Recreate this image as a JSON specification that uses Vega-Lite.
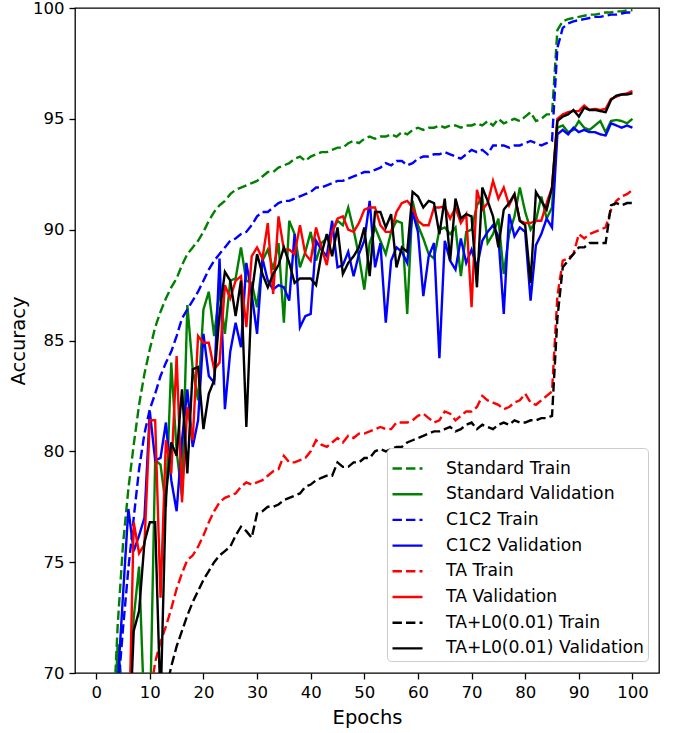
{
"$schema": "https://vega.github.io/schema/vega-lite/v6.json",
"width": 584, "height": 665,
"autosize": {"type": "none"},
"padding": {"left": 75, "top": 8, "right": 16, "bottom": 60},
"config": {
  "font": "DejaVu Sans",
  "view": {"stroke": "black", "strokeWidth": 1.3},
  "axis": {"domain": false, "grid": false, "tickColor": "black", "tickWidth": 1.3, "tickSize": 6, "labelFontSize": 16.5, "labelColor": "black", "titleFontSize": 19.5, "titleFontWeight": "normal", "titleColor": "black", "labelPadding": 5}
},
"data": {"values": [
{"e":1,"ST":45,"SV":55,"CT":45,"CV":55,"TT":50,"TV":55,"LT":45,"LV":55},
{"e":2,"ST":58,"SV":60,"CT":55,"CV":60,"TT":54,"TV":58,"LT":48,"LV":58},
{"e":3,"ST":67,"SV":65,"CT":63,"CV":65,"TT":57,"TV":60,"LT":51,"LV":60},
{"e":4,"ST":72.1,"SV":71.3,"CT":69,"CV":69.5,"TT":59,"TV":62,"LT":54,"LV":62},
{"e":5,"ST":75.8,"SV":69.0,"CT":72,"CV":73.5,"TT":61,"TV":64,"LT":56,"LV":64},
{"e":6,"ST":78.3,"SV":68.0,"CT":74.7,"CV":77.4,"TT":62.5,"TV":66,"LT":58,"LV":66},
{"e":7,"ST":80.3,"SV":72.5,"CT":77.0,"CV":75.5,"TT":64,"TV":76.8,"LT":60,"LV":71.9},
{"e":8,"ST":82.1,"SV":74.8,"CT":79.2,"CV":76.2,"TT":65.5,"TV":75.4,"LT":62,"LV":72.8},
{"e":9,"ST":83.5,"SV":68.0,"CT":80.8,"CV":77.0,"TT":67,"TV":75.8,"LT":63.5,"LV":75.9},
{"e":10,"ST":84.6,"SV":67.5,"CT":81.9,"CV":81.8,"TT":68.8,"TV":81.4,"LT":65,"LV":76.8},
{"e":11,"ST":85.6,"SV":79.6,"CT":82.6,"CV":79.6,"TT":70.5,"TV":81.4,"LT":66.5,"LV":76.8},
{"e":12,"ST":86.3,"SV":79.4,"CT":83.4,"CV":79.7,"TT":71.4,"TV":73.4,"LT":67.8,"LV":68.5},
{"e":13,"ST":86.9,"SV":77.5,"CT":84.0,"CV":81.3,"TT":72.1,"TV":80.5,"LT":69.2,"LV":78.0},
{"e":14,"ST":87.4,"SV":84.0,"CT":84.5,"CV":78.7,"TT":72.9,"TV":79.0,"LT":70.3,"LV":80.4},
{"e":15,"ST":87.8,"SV":80.0,"CT":85.2,"CV":77.3,"TT":73.8,"TV":84.3,"LT":71.2,"LV":79.8},
{"e":16,"ST":88.4,"SV":78.0,"CT":86.0,"CV":80.5,"TT":74.5,"TV":77.7,"LT":71.9,"LV":82.8},
{"e":17,"ST":88.9,"SV":86.6,"CT":86.4,"CV":82.8,"TT":75.1,"TV":82.0,"LT":72.6,"LV":79.0},
{"e":18,"ST":89.2,"SV":83.7,"CT":86.8,"CV":80.2,"TT":75.3,"TV":80.5,"LT":73.2,"LV":83.7},
{"e":19,"ST":89.5,"SV":82.3,"CT":87.2,"CV":81.4,"TT":75.7,"TV":85.2,"LT":73.7,"LV":83.8},
{"e":20,"ST":89.9,"SV":86.4,"CT":87.7,"CV":85.3,"TT":76.2,"TV":84.9,"LT":74.2,"LV":81.0},
{"e":21,"ST":90.4,"SV":87.2,"CT":88.2,"CV":83.4,"TT":76.8,"TV":84.9,"LT":74.6,"LV":82.6},
{"e":22,"ST":90.8,"SV":85.2,"CT":88.6,"CV":83.1,"TT":77.3,"TV":83.7,"LT":75.0,"LV":83.2},
{"e":23,"ST":91.1,"SV":87.3,"CT":88.9,"CV":88.7,"TT":77.7,"TV":84.0,"LT":75.3,"LV":86.2},
{"e":24,"ST":91.3,"SV":85.3,"CT":89.2,"CV":81.9,"TT":77.9,"TV":87.5,"LT":75.5,"LV":88.1},
{"e":25,"ST":91.6,"SV":87.7,"CT":89.5,"CV":84.5,"TT":78.0,"TV":86.9,"LT":75.7,"LV":87.7},
{"e":26,"ST":91.8,"SV":87.8,"CT":89.6,"CV":85.8,"TT":78.1,"TV":87.7,"LT":76.2,"LV":86.1},
{"e":27,"ST":91.9,"SV":89.2,"CT":89.8,"CV":84.7,"TT":78.4,"TV":87.9,"LT":76.6,"LV":87.7},
{"e":28,"ST":92.0,"SV":87.7,"CT":89.9,"CV":88.5,"TT":78.6,"TV":85.6,"LT":76.4,"LV":81.1},
{"e":29,"ST":92.1,"SV":87.6,"CT":90.2,"CV":87.1,"TT":78.5,"TV":88.8,"LT":76.1,"LV":87.1},
{"e":30,"ST":92.2,"SV":86.5,"CT":90.6,"CV":85.3,"TT":78.6,"TV":89.2,"LT":77.2,"LV":88.9},
{"e":31,"ST":92.4,"SV":88.6,"CT":90.8,"CV":88.7,"TT":78.7,"TV":88.7,"LT":77.3,"LV":88.0},
{"e":32,"ST":92.6,"SV":89.1,"CT":90.8,"CV":87.7,"TT":78.9,"TV":90.3,"LT":77.5,"LV":87.4},
{"e":33,"ST":92.6,"SV":88.2,"CT":91.0,"CV":87.3,"TT":79.1,"TV":87.1,"LT":77.5,"LV":88.0},
{"e":34,"ST":92.8,"SV":89.4,"CT":91.2,"CV":87.5,"TT":79.2,"TV":90.6,"LT":77.6,"LV":88.4},
{"e":35,"ST":92.9,"SV":85.8,"CT":91.3,"CV":87.4,"TT":79.8,"TV":89.1,"LT":77.8,"LV":89.2},
{"e":36,"ST":93.0,"SV":90.4,"CT":91.3,"CV":86.8,"TT":79.5,"TV":89.1,"LT":77.9,"LV":88.5},
{"e":37,"ST":93.2,"SV":89.8,"CT":91.4,"CV":89.8,"TT":79.5,"TV":88.9,"LT":78.0,"LV":87.6},
{"e":38,"ST":93.3,"SV":88.3,"CT":91.5,"CV":85.6,"TT":79.6,"TV":90.2,"LT":78.1,"LV":87.8},
{"e":39,"ST":93.1,"SV":89.0,"CT":91.6,"CV":86.1,"TT":79.7,"TV":88.9,"LT":78.4,"LV":87.8},
{"e":40,"ST":93.3,"SV":89.9,"CT":91.7,"CV":86.2,"TT":80.0,"TV":88.6,"LT":78.5,"LV":87.8},
{"e":41,"ST":93.4,"SV":88.6,"CT":91.9,"CV":89.5,"TT":80.5,"TV":90.1,"LT":78.7,"LV":87.5},
{"e":42,"ST":93.5,"SV":89.4,"CT":91.9,"CV":89.1,"TT":80.3,"TV":89.2,"LT":78.8,"LV":88.9},
{"e":43,"ST":93.5,"SV":89.6,"CT":92.0,"CV":88.8,"TT":80.2,"TV":88.4,"LT":78.9,"LV":89.8},
{"e":44,"ST":93.6,"SV":89.9,"CT":92.1,"CV":90.4,"TT":80.4,"TV":89.9,"LT":78.9,"LV":88.8},
{"e":45,"ST":93.7,"SV":90.4,"CT":92.2,"CV":88.3,"TT":80.6,"TV":90.5,"LT":79.5,"LV":90.1},
{"e":46,"ST":93.7,"SV":90.2,"CT":92.2,"CV":88.4,"TT":80.4,"TV":90.6,"LT":79.3,"LV":88.0},
{"e":47,"ST":93.9,"SV":91.0,"CT":92.3,"CV":89.0,"TT":80.7,"TV":90.0,"LT":79.3,"LV":88.5},
{"e":48,"ST":94.0,"SV":90.0,"CT":92.4,"CV":87.9,"TT":80.6,"TV":89.9,"LT":79.5,"LV":88.8},
{"e":49,"ST":93.9,"SV":88.8,"CT":92.5,"CV":88.9,"TT":80.8,"TV":90.3,"LT":79.5,"LV":89.2},
{"e":50,"ST":94.1,"SV":87.3,"CT":92.6,"CV":89.5,"TT":80.8,"TV":90.9,"LT":79.7,"LV":90.1},
{"e":51,"ST":94.2,"SV":89.4,"CT":92.6,"CV":91.3,"TT":80.9,"TV":91.0,"LT":79.7,"LV":87.9},
{"e":52,"ST":94.1,"SV":90.1,"CT":92.7,"CV":88.3,"TT":81.0,"TV":91.0,"LT":80.0,"LV":90.8},
{"e":53,"ST":94.2,"SV":89.5,"CT":92.8,"CV":89.4,"TT":81.1,"TV":90.2,"LT":80.1,"LV":90.8},
{"e":54,"ST":94.2,"SV":88.9,"CT":93.0,"CV":85.8,"TT":81.0,"TV":89.9,"LT":80.0,"LV":90.1},
{"e":55,"ST":94.3,"SV":89.9,"CT":92.9,"CV":88.6,"TT":81.0,"TV":89.9,"LT":80.1,"LV":90.7},
{"e":56,"ST":94.2,"SV":90.4,"CT":93.1,"CV":89.2,"TT":81.3,"TV":90.8,"LT":80.2,"LV":88.3},
{"e":57,"ST":94.4,"SV":90.3,"CT":93.1,"CV":89.0,"TT":81.3,"TV":91.2,"LT":80.2,"LV":89.2},
{"e":58,"ST":94.3,"SV":86.2,"CT":92.9,"CV":88.5,"TT":81.3,"TV":91.3,"LT":80.4,"LV":89.0},
{"e":59,"ST":94.5,"SV":91.3,"CT":93.0,"CV":90.8,"TT":81.4,"TV":91.0,"LT":80.5,"LV":91.7},
{"e":60,"ST":94.6,"SV":90.2,"CT":93.2,"CV":89.9,"TT":81.6,"TV":90.4,"LT":80.6,"LV":91.5},
{"e":61,"ST":94.5,"SV":89.6,"CT":93.3,"CV":87.0,"TT":81.7,"TV":90.2,"LT":80.7,"LV":91.0},
{"e":62,"ST":94.6,"SV":88.9,"CT":93.3,"CV":88.8,"TT":81.5,"TV":90.2,"LT":80.8,"LV":91.3},
{"e":63,"ST":94.6,"SV":88.7,"CT":93.4,"CV":89.4,"TT":81.3,"TV":91.0,"LT":80.9,"LV":91.2},
{"e":64,"ST":94.7,"SV":90.0,"CT":93.4,"CV":84.2,"TT":81.4,"TV":91.0,"LT":80.9,"LV":89.8},
{"e":65,"ST":94.6,"SV":90.1,"CT":93.5,"CV":89.5,"TT":81.8,"TV":91.05,"LT":81.0,"LV":91.4},
{"e":66,"ST":94.7,"SV":89.8,"CT":93.4,"CV":88.6,"TT":81.7,"TV":90.5,"LT":81.1,"LV":88.6},
{"e":67,"ST":94.7,"SV":90.1,"CT":93.3,"CV":88.2,"TT":81.4,"TV":91.0,"LT":80.9,"LV":91.4},
{"e":68,"ST":94.6,"SV":87.9,"CT":93.2,"CV":89.6,"TT":81.6,"TV":90.3,"LT":81.0,"LV":90.5},
{"e":69,"ST":94.7,"SV":89.9,"CT":93.4,"CV":88.5,"TT":81.8,"TV":90.7,"LT":81.2,"LV":90.7},
{"e":70,"ST":94.7,"SV":90.0,"CT":93.6,"CV":89.1,"TT":81.8,"TV":86.5,"LT":81.3,"LV":90.6},
{"e":71,"ST":94.8,"SV":91.1,"CT":93.5,"CV":88.3,"TT":82.0,"TV":91.8,"LT":81.0,"LV":87.4},
{"e":72,"ST":94.7,"SV":91.5,"CT":93.6,"CV":89.5,"TT":82.5,"TV":90.9,"LT":81.2,"LV":91.9},
{"e":73,"ST":94.9,"SV":89.4,"CT":93.4,"CV":89.9,"TT":82.3,"TV":91.2,"LT":81.1,"LV":91.3},
{"e":74,"ST":94.7,"SV":89.8,"CT":93.8,"CV":90.2,"TT":82.2,"TV":92.2,"LT":81.0,"LV":90.6},
{"e":75,"ST":95.0,"SV":90.5,"CT":93.8,"CV":89.7,"TT":82.1,"TV":91.4,"LT":81.2,"LV":89.2},
{"e":76,"ST":94.8,"SV":88.0,"CT":93.8,"CV":86.2,"TT":81.9,"TV":91.9,"LT":81.3,"LV":90.9},
{"e":77,"ST":94.9,"SV":89.8,"CT":93.7,"CV":90.7,"TT":82.0,"TV":91.1,"LT":81.2,"LV":91.2},
{"e":78,"ST":95.0,"SV":90.6,"CT":93.8,"CV":89.7,"TT":82.2,"TV":91.6,"LT":81.4,"LV":91.6},
{"e":79,"ST":94.9,"SV":91.9,"CT":93.8,"CV":90.1,"TT":82.3,"TV":90.4,"LT":81.3,"LV":90.4},
{"e":80,"ST":95.1,"SV":90.8,"CT":93.9,"CV":89.9,"TT":82.6,"TV":90.3,"LT":81.3,"LV":90.2},
{"e":81,"ST":95.3,"SV":90.0,"CT":94.0,"CV":86.8,"TT":82.2,"TV":90.3,"LT":81.4,"LV":87.6},
{"e":82,"ST":94.9,"SV":90.4,"CT":93.9,"CV":89.3,"TT":82.1,"TV":90.4,"LT":81.4,"LV":91.7},
{"e":83,"ST":95.0,"SV":91.5,"CT":93.8,"CV":89.8,"TT":82.3,"TV":90.4,"LT":81.5,"LV":91.3},
{"e":84,"ST":95.2,"SV":90.5,"CT":93.9,"CV":90.5,"TT":82.5,"TV":91.2,"LT":81.5,"LV":90.9},
{"e":85,"ST":95.2,"SV":91.0,"CT":94.0,"CV":90.1,"TT":82.7,"TV":91.9,"LT":81.6,"LV":91.9},
{"e":86,"ST":99.0,"SV":94.6,"CT":98.2,"CV":94.3,"TT":87.0,"TV":95.0,"LT":86.0,"LV":94.9},
{"e":87,"ST":99.4,"SV":94.7,"CT":99.1,"CV":94.5,"TT":88.6,"TV":95.2,"LT":88.3,"LV":95.1},
{"e":88,"ST":99.5,"SV":94.4,"CT":99.3,"CV":94.3,"TT":88.7,"TV":95.3,"LT":88.6,"LV":95.2},
{"e":89,"ST":99.55,"SV":94.5,"CT":99.4,"CV":94.6,"TT":88.9,"TV":95.35,"LT":88.9,"LV":95.4},
{"e":90,"ST":99.6,"SV":94.9,"CT":99.45,"CV":94.4,"TT":89.8,"TV":95.35,"LT":89.2,"LV":95.1},
{"e":91,"ST":99.65,"SV":94.6,"CT":99.5,"CV":94.5,"TT":89.6,"TV":95.6,"LT":89.2,"LV":95.5},
{"e":92,"ST":99.7,"SV":94.5,"CT":99.55,"CV":94.4,"TT":89.8,"TV":95.4,"LT":89.4,"LV":95.4},
{"e":93,"ST":99.7,"SV":94.7,"CT":99.6,"CV":94.4,"TT":89.9,"TV":95.45,"LT":89.4,"LV":95.4},
{"e":94,"ST":99.75,"SV":94.9,"CT":99.6,"CV":94.3,"TT":90.0,"TV":95.4,"LT":89.4,"LV":95.35},
{"e":95,"ST":99.8,"SV":94.4,"CT":99.65,"CV":94.25,"TT":90.1,"TV":95.45,"LT":89.4,"LV":95.3},
{"e":96,"ST":99.8,"SV":94.9,"CT":99.7,"CV":94.8,"TT":90.9,"TV":95.9,"LT":91.1,"LV":95.85},
{"e":97,"ST":99.85,"SV":94.95,"CT":99.7,"CV":94.7,"TT":91.3,"TV":96.0,"LT":91.2,"LV":96.05},
{"e":98,"ST":99.85,"SV":94.9,"CT":99.75,"CV":94.6,"TT":91.5,"TV":96.1,"LT":91.1,"LV":96.1},
{"e":99,"ST":99.9,"SV":94.8,"CT":99.8,"CV":94.7,"TT":91.6,"TV":96.15,"LT":91.2,"LV":96.1},
{"e":100,"ST":99.9,"SV":95.0,"CT":99.8,"CV":94.6,"TT":91.8,"TV":96.25,"LT":91.2,"LV":96.15}
]},
"transform": [{"fold": ["ST","SV","CT","CV","TT","TV","LT","LV"], "as": ["s","v"]}],
"mark": {"type": "line", "clip": true, "strokeWidth": 2.4},
"encoding": {
  "x": {"field": "e", "type": "quantitative", "scale": {"domain": [-3.95, 104.95], "nice": false, "zero": false}, "axis": {"values": [0,10,20,30,40,50,60,70,80,90,100], "title": "Epochs", "titlePadding": 8}},
  "y": {"field": "v", "type": "quantitative", "scale": {"domain": [70, 100], "nice": false, "zero": false}, "axis": {"values": [70,75,80,85,90,95,100], "title": "Accuracy", "titlePadding": 4}},
  "color": {"field": "s", "type": "nominal", "sort": null,
    "scale": {"domain": ["ST","SV","CT","CV","TT","TV","LT","LV"], "range": ["#008000","#008000","#0000ff","#0000ff","#ff0000","#ff0000","#000000","#000000"]},
    "legend": {"title": null, "orient": "none", "legendX": 312, "legendY": 440, "labelExpr": "{'ST':'Standard Train','SV':'Standard Validation','CT':'C1C2 Train','CV':'C1C2 Validation','TT':'TA Train','TV':'TA Validation','LT':'TA+L0(0.01) Train','LV':'TA+L0(0.01) Validation'}[datum.label]", "symbolType": "stroke", "symbolSize": 900, "symbolStrokeWidth": 2.4, "labelFontSize": 17.2, "labelColor": "black", "fillColor": "white", "strokeColor": "#cccccc", "cornerRadius": 4, "padding": 4, "rowPadding": 0.7, "labelOffset": 22, "labelLimit": 400}},
  "strokeDash": {"field": "s", "type": "nominal", "sort": null,
    "scale": {"domain": ["ST","SV","CT","CV","TT","TV","LT","LV"], "range": [[9.4,4.1],[1,0],[9.4,4.1],[1,0],[9.4,4.1],[1,0],[9.4,4.1],[1,0]]},
    "legend": {"title": null, "orient": "none", "legendX": 312, "legendY": 440, "labelExpr": "{'ST':'Standard Train','SV':'Standard Validation','CT':'C1C2 Train','CV':'C1C2 Validation','TT':'TA Train','TV':'TA Validation','LT':'TA+L0(0.01) Train','LV':'TA+L0(0.01) Validation'}[datum.label]", "symbolType": "stroke", "symbolSize": 900, "symbolStrokeWidth": 2.4, "labelFontSize": 17.2, "labelColor": "black", "fillColor": "white", "strokeColor": "#cccccc", "cornerRadius": 4, "padding": 4, "rowPadding": 0.7, "labelOffset": 22, "labelLimit": 400}}
}
}
